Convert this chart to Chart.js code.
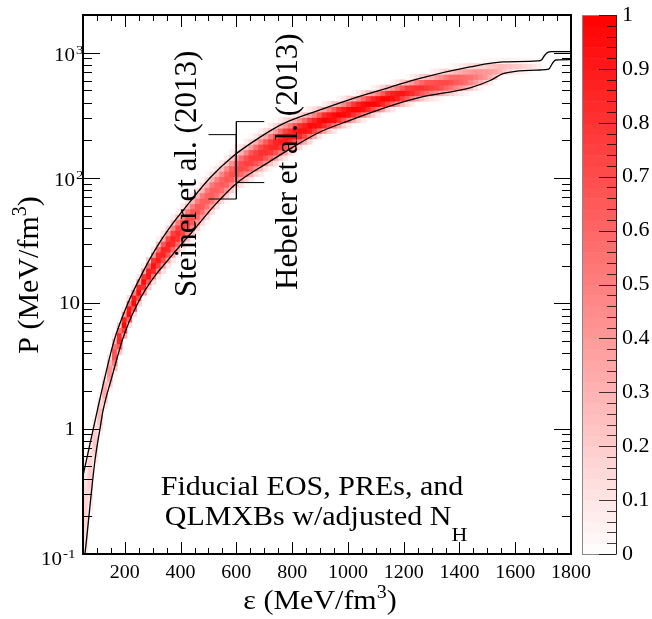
<!DOCTYPE html>
<html>
<head>
<meta charset="utf-8">
<title>EOS band</title>
<script src="https://cdn.jsdelivr.net/npm/chart.js@4.4.0/dist/chart.umd.min.js"></script>
<style>
  body { margin: 0; background: #fff; }
  #wrap { width: 652px; height: 619px; }
</style>
</head>
<body>
<div id="wrap"><canvas id="eosChart" width="652" height="619"></canvas></div>
<script>
// histogram grid: energy density (MeV/fm^3) vs pressure (MeV/fm^3, log)
const epsMin = 50, epsMax = 1800, nEpsBins = 100;
const pMin = 0.1, pMax = 2000, nPBins = 100;

// upper and lower bounding curves
const upperEps = [50, 87, 129, 161, 211, 266, 314, 374, 422, 505, 589, 685, 768, 900, 1050, 1150, 1258, 1438, 1556, 1680, 1695, 1705, 1718, 1730, 1800];
const upperP   = [0.42, 1.0, 2.6, 5.0, 10, 18, 28, 44, 60, 100, 150, 212, 272, 350, 455, 530, 625, 770, 845, 860, 880, 950, 1010, 1020, 1020];
const lowerEps = [50, 57, 93, 111, 122, 154, 190, 215, 244, 275, 310, 350, 398, 445, 520, 601, 709, 800, 900, 1000, 1150, 1258, 1438, 1510, 1556, 1600, 1690, 1720, 1733, 1745, 1800];
const lowerP   = [0.075, 0.1, 0.56, 1.0, 1.4, 2.6, 5.0, 7.1, 9.8, 13, 16.8, 21.5, 28.8, 38, 60, 91, 131, 175, 233, 285, 375, 440, 525, 600, 680, 710, 728, 740, 820, 875, 880];

// peak probability in each energy-density column
const colPeak = [
  0.18, 0.2, 0.22, 0.28, 0.35, 0.45, 0.7, 0.9, 1.0, 1.0,
  1.0, 0.98, 0.97, 0.95, 0.94, 0.92, 0.9, 0.88, 0.86, 0.84,
  0.8, 0.76, 0.72, 0.69, 0.66, 0.65, 0.65, 0.65, 0.66, 0.68,
  0.7, 0.72, 0.74, 0.76, 0.78, 0.8, 0.82, 0.84, 0.86, 0.88,
  0.9, 0.92, 0.93, 0.94, 0.95, 0.96, 0.97, 0.98, 0.98, 1.0,
  1.0, 1.0, 1.0, 1.0, 1.0, 1.0, 1.0, 1.0, 1.0, 1.0,
  1.0, 1.0, 1.0, 0.98, 0.96, 0.93, 0.9, 0.87, 0.84, 0.82,
  0.8, 0.78, 0.76, 0.74, 0.72, 0.7, 0.67, 0.64, 0.6, 0.56,
  0.52, 0.48, 0.44, 0.4, 0.36, 0.32, 0.28, 0.25, 0.22, 0.2,
  0.17, 0.14, 0.1, 0.06, 0, 0, 0, 0, 0, 0
];

// profile across the band (0 = lower curve, 1 = upper curve)
const profPos = [-0.3, -0.12, 0.1, 0.3, 0.5, 0.7, 0.9, 1.12, 1.3];
const profVal = [0, 0.2, 0.65, 0.95, 1, 0.85, 0.45, 0.12, 0];

// bracket annotations at eps = 600
const steinerEps = [500, 600, 600, 500];
const steinerP   = [222, 222, 68, 68];
const hebelerEps = [700, 600, 600, 700];
const hebelerP   = [282, 282, 92, 92];

// axis labels
const xMajorTicks = [200, 400, 600, 800, 1000, 1200, 1400, 1600, 1800];
const yDecades = [0.1, 1, 10, 100, 1000];
const yDecadeLabels = [['10', '-1'], ['1', ''], ['10', ''], ['10', '2'], ['10', '3']];
const zTicks = [0, 0.1, 0.2, 0.3, 0.4, 0.5, 0.6, 0.7, 0.8, 0.9, 1];
const zTickLabels = ['0', '0.1', '0.2', '0.3', '0.4', '0.5', '0.6', '0.7', '0.8', '0.9', '1'];

const FONT = '"Liberation Serif", "Times New Roman", serif';
const SQ = 0.9;

function logInterp(xs, ps, x) {
  if (x <= xs[0]) return Math.log10(ps[0]);
  for (let i = 1; i < xs.length; i++) {
    if (x <= xs[i]) {
      const f = (x - xs[i - 1]) / (xs[i] - xs[i - 1]);
      return Math.log10(ps[i - 1]) + f * (Math.log10(ps[i]) - Math.log10(ps[i - 1]));
    }
  }
  return Math.log10(ps[ps.length - 1]);
}

function profileAt(t) {
  if (t <= profPos[0] || t >= profPos[profPos.length - 1]) return 0;
  for (let i = 1; i < profPos.length; i++) {
    if (t <= profPos[i]) {
      const f = (t - profPos[i - 1]) / (profPos[i] - profPos[i - 1]);
      return profVal[i - 1] + f * (profVal[i] - profVal[i - 1]);
    }
  }
  return 0;
}

function colour(v) {
  const g = Math.round(255 * (1 - Math.max(0, Math.min(1, v))));
  return 'rgb(255,' + g + ',' + g + ')';
}

// build histogram cells
const cells = [];
const dEps = (epsMax - epsMin) / nEpsBins;
const logMin = Math.log10(pMin);
const dLog = (Math.log10(pMax) - logMin) / nPBins;
for (let i = 0; i < nEpsBins; i++) {
  if (!colPeak[i]) continue;
  const e = epsMin + (i + 0.5) * dEps;
  const lo = logInterp(lowerEps, lowerP, e);
  const hi = logInterp(upperEps, upperP, e);
  for (let r = 0; r < nPBins; r++) {
    const l0 = logMin + r * dLog;
    const t = (l0 + dLog / 2 - lo) / (hi - lo);
    const v = colPeak[i] * profileAt(t);
    if (v < 0.02) continue;
    cells.push({ x: e, y: [Math.pow(10, l0), Math.pow(10, l0 + dLog)], v: v });
  }
}

function xy(xs, ys) {
  return xs.map((x, i) => ({ x: x, y: ys[i] }));
}

function drawText(ctx, str, x, y, size, align, sy) {
  ctx.save();
  ctx.translate(x, y);
  ctx.scale(1, sy || 1);
  ctx.font = size + 'px ' + FONT;
  ctx.textAlign = align;
  ctx.textBaseline = 'alphabetic';
  ctx.fillText(str, 0, 0);
  ctx.restore();
}

// text made of pieces: [str, size, rise]
function drawRich(ctx, parts, x, y, align, rot, sy) {
  ctx.save();
  ctx.translate(x, y);
  if (rot) ctx.rotate(rot);
  ctx.scale(1, sy || 1);
  ctx.textBaseline = 'alphabetic';
  ctx.textAlign = 'left';
  let w = 0;
  parts.forEach(p => { ctx.font = p[1] + 'px ' + FONT; w += ctx.measureText(p[0]).width; });
  let cx = align === 'center' ? -w / 2 : (align === 'right' ? -w : 0);
  parts.forEach(p => {
    ctx.font = p[1] + 'px ' + FONT;
    ctx.fillText(p[0], cx, -p[2]);
    cx += ctx.measureText(p[0]).width;
  });
  ctx.restore();
}

const rootStyle = {
  id: 'rootStyle',
  afterDraw(chart) {
    const { ctx, chartArea: a, scales: { x, y } } = chart;
    ctx.save();
    ctx.fillStyle = '#000';
    ctx.strokeStyle = '#000';

    // frame
    ctx.lineWidth = 2;
    ctx.strokeRect(a.left, a.top, a.right - a.left, a.bottom - a.top);

    // ticks pointing inwards
    ctx.lineWidth = 1;
    ctx.beginPath();
    for (let v = 100; v < epsMax; v += 50) {
      const px = Math.round(x.getPixelForValue(v)) + 0.5;
      const len = v % 200 === 0 ? 12 : 6;
      ctx.moveTo(px, a.bottom); ctx.lineTo(px, a.bottom - len);
      ctx.moveTo(px, a.top); ctx.lineTo(px, a.top + len);
    }
    for (let d = -1; d <= 3; d++) {
      for (let m = 1; m <= 9; m++) {
        const v = m * Math.pow(10, d);
        if (v < pMin * 0.999 || v > pMax * 1.001) continue;
        const py = Math.round(y.getPixelForValue(v)) + 0.5;
        const len = m === 1 ? 17 : 9;
        ctx.moveTo(a.left, py); ctx.lineTo(a.left + len, py);
        ctx.moveTo(a.right, py); ctx.lineTo(a.right - len, py);
      }
    }
    ctx.stroke();

    // x tick labels
    xMajorTicks.forEach(v => {
      drawText(ctx, String(v), x.getPixelForValue(v), 578, 20, 'center', SQ);
    });
    // y tick labels
    yDecades.forEach((v, i) => {
      const py = y.getPixelForValue(v);
      const lab = yDecadeLabels[i];
      if (lab[1]) {
        const right = lab[1] === '-1' ? 62 : 75;
        const up = lab[1] === '-1' ? 11 : 8;
        drawText(ctx, lab[0], right, py + up, 21, 'right', SQ);
        drawText(ctx, lab[1], right + 1, py + up - 7, 15, 'left', SQ);
      } else {
        drawText(ctx, lab[0], lab[0] === '1' ? 75 : 80, py + 6, 21, 'right', SQ);
      }
    });

    // axis titles
    drawRich(ctx, [['\u03b5 (MeV/fm', 30, 0], ['3', 20, 12], [')', 30, 0]], 320, 609, 'center', 0, SQ);
    drawRich(ctx, [['P (MeV/fm', 30, 0], ['3', 20, 12], [')', 30, 0]], 38, 275, 'center', -Math.PI / 2, 1);

    // colour bar
    const cb = { l: 582, r: 616, t: a.top, b: a.bottom };
    const nSteps = 50;
    for (let k = 0; k < nSteps; k++) {
      const y0 = cb.b - (k + 1) / nSteps * (cb.b - cb.t);
      const y1 = cb.b - k / nSteps * (cb.b - cb.t);
      ctx.fillStyle = colour((k + 0.5) / nSteps);
      ctx.fillRect(cb.l, y0, cb.r - cb.l, y1 - y0 + 0.5);
    }
    ctx.strokeStyle = '#888';
    ctx.strokeRect(cb.l + 0.5, cb.t + 0.5, cb.r - cb.l, cb.b - cb.t);
    ctx.strokeStyle = '#000';
    ctx.beginPath();
    ctx.moveTo(cb.r + 0.5, cb.t); ctx.lineTo(cb.r + 0.5, cb.b);
    for (let k = 0; k <= 50; k++) {
      const py = Math.round(cb.b - k / 50 * (cb.b - cb.t)) + 0.5;
      const len = k % 5 === 0 ? 17 : 9;
      ctx.moveTo(cb.r, py); ctx.lineTo(cb.r - len, py);
    }
    ctx.strokeStyle = 'rgba(0,0,0,0.75)';
    ctx.stroke();
    ctx.fillStyle = '#000';
    zTicks.forEach((v, i) => {
      const py = cb.b - v * (cb.b - cb.t);
      ctx.save();
      ctx.font = '22px ' + FONT;
      ctx.textAlign = 'left';
      ctx.textBaseline = 'middle';
      ctx.fillText(zTickLabels[i], 622, py);
      ctx.restore();
    });

    // annotations
    drawRich(ctx, [['Steiner et al. (2013)', 31, 0]], 196, 297, 'left', -Math.PI / 2, 1);
    drawRich(ctx, [['Hebeler et al. (2013)', 31, 0]], 297, 290, 'left', -Math.PI / 2, 1);
    drawRich(ctx, [['Fiducial EOS, PREs, and', 30, 0]], 312, 495, 'center', 0, SQ);
    drawRich(ctx, [['QLMXBs w/adjusted N', 30, 0], ['H', 22, -18]], 316, 525, 'center', 0, SQ);

    ctx.restore();
  }
};

new Chart(document.getElementById('eosChart'), {
  type: 'bar',
  data: {
    datasets: [
      {
        type: 'bar',
        data: cells,
        backgroundColor: c => colour(c.raw ? c.raw.v : 0),
        borderWidth: 0,
        barPercentage: 1,
        categoryPercentage: 1,
        order: 3
      },
      {
        type: 'line',
        data: xy(upperEps, upperP),
        borderColor: '#000',
        borderWidth: 1.3,
        pointRadius: 0,
        cubicInterpolationMode: 'monotone',
        order: 1
      },
      {
        type: 'line',
        data: xy(lowerEps, lowerP),
        borderColor: '#000',
        borderWidth: 1.3,
        pointRadius: 0,
        cubicInterpolationMode: 'monotone',
        order: 1
      },
      {
        type: 'line',
        data: xy(steinerEps, steinerP),
        borderColor: '#000',
        borderWidth: 1,
        pointRadius: 0,
        tension: 0,
        order: 1
      },
      {
        type: 'line',
        data: xy(hebelerEps, hebelerP),
        borderColor: '#000',
        borderWidth: 1,
        pointRadius: 0,
        tension: 0,
        order: 1
      }
    ]
  },
  options: {
    responsive: false,
    animation: false,
    devicePixelRatio: 1,
    layout: { padding: { left: 83, top: 15, right: 81, bottom: 65 } },
    plugins: { legend: { display: false }, tooltip: { enabled: false } },
    scales: {
      x: { type: 'linear', min: epsMin, max: epsMax, offset: false, display: false },
      y: { type: 'logarithmic', min: pMin, max: pMax, display: false }
    }
  },
  plugins: [rootStyle]
});
</script>
</body>
</html>
